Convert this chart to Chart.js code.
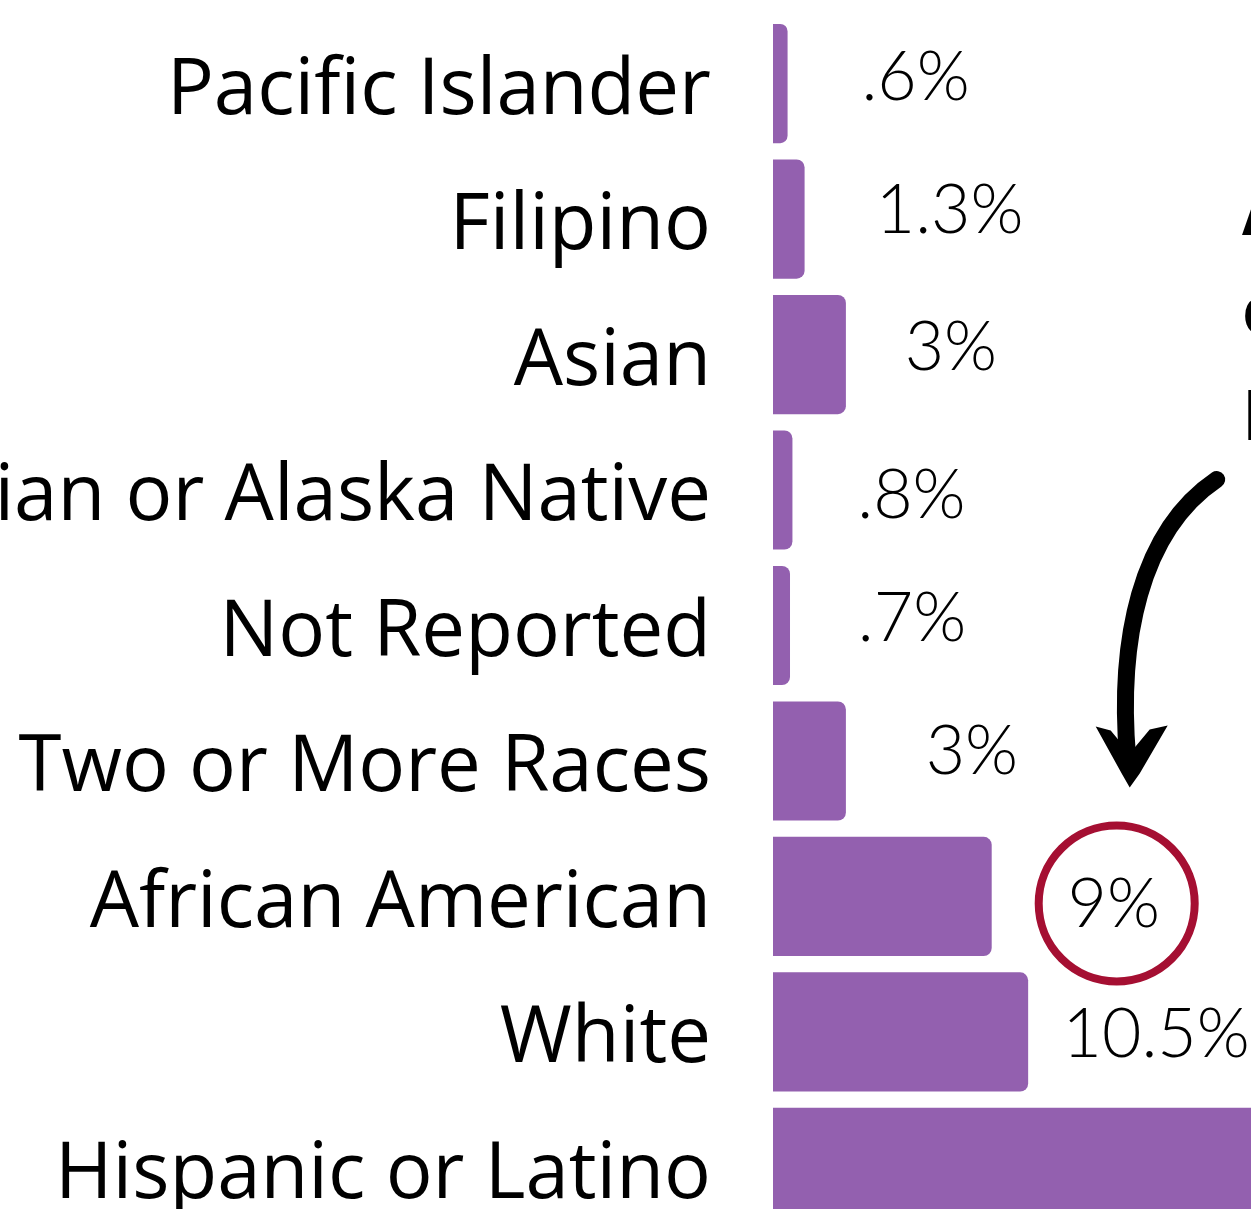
<!DOCTYPE html>
<html>
<head>
<meta charset="utf-8">
<script src="https://cdn.jsdelivr.net/npm/chart.js@4.4.1/dist/chart.umd.min.js"></script>
<style>
  html, body { margin: 0; padding: 0; background: #fff; overflow: hidden; }
  #wrap { position: relative; width: 1251px; height: 1209px; overflow: hidden; }
  #chart { position: absolute; left: -500px; top: -39px; }
</style>
</head>
<body>
<div id="wrap">
  <canvas id="chart" width="1759" height="1329"></canvas>
</div>
<script>
// categories + values (percent of students)
const groups = [
    "Pacific Islander",
    "Filipino",
    "Asian",
    "American Indian or Alaska Native",
    "Not Reported",
    "Two or More Races",
    "African American",
    "White",
    "Hispanic or Latino"
];
const pct = [0.6, 1.3, 3, 0.8, 0.7, 3, 9, 10.5, 71.1];
const highlightIdx = 6; // circled one
const sideNote = ["Almost", "one in ten", "Black"];

const barColor = '#9360AF';
const ringColor = '#A50F32';

// hand placed label nudges (center x from bar end, baseline from bar middle)
const nudgeX = [128, 145, 105, 119, 122, 126, 122, 128, 125];
const nudgeY = [16, 14, 15, 28, 15, 13, 31, 25, 20];

function fmt(v) {
    let s = String(v);
    if (v < 1) s = s.replace(/^0/, '');
    return s + '%';
}

const valueLabels = {
    id: 'valueLabels',
    afterDatasetsDraw(chart) {
        const ctx = chart.ctx;
        const meta = chart.getDatasetMeta(0);
        ctx.save();
        ctx.fillStyle = '#000';
        ctx.font = '300 68px Lato';
        ctx.textAlign = 'center';
        ctx.textBaseline = 'alphabetic';
        meta.data.forEach((bar, i) => {
            ctx.fillText(fmt(pct[i]), bar.x + nudgeX[i], bar.y + nudgeY[i]);
        });

        // red ring round the highlighted value
        const hb = meta.data[highlightIdx];
        const cx = hb.x + 125, cy = hb.y + 7;
        ctx.beginPath();
        ctx.arc(cx, cy, 78, 0, Math.PI * 2);
        ctx.lineWidth = 8;
        ctx.strokeStyle = ringColor;
        ctx.stroke();

        // curved arrow pointing down at the ring
        ctx.strokeStyle = '#000';
        ctx.fillStyle = '#000';
        ctx.lineWidth = 17;
        ctx.lineCap = 'round';
        ctx.beginPath();
        ctx.moveTo(cx + 100, cy - 424);
        ctx.bezierCurveTo(cx + 23, cy - 372, cx + 1, cy - 262, cx + 11, cy - 145);
        ctx.stroke();
        ctx.beginPath();
        ctx.moveTo(cx - 21, cy - 177);
        ctx.lineTo(cx - 6, cy - 173);
        ctx.lineTo(cx + 13, cy - 150);
        ctx.lineTo(cx + 33, cy - 174);
        ctx.lineTo(cx + 51, cy - 178);
        ctx.lineTo(cx + 23, cy - 130);
        ctx.lineTo(cx + 13, cy - 116);
        ctx.lineTo(cx + 5, cy - 130);
        ctx.closePath();
        ctx.fill();

        // side note, runs off the right edge (relative to first bar row)
        ctx.font = '700 70px "Open Sans"';
        ctx.textAlign = 'left';
        const nx = chart.chartArea.left + 469;
        const y0 = meta.data[0].y;
        [151, 251, 356].forEach((dy, i) => ctx.fillText(sideNote[i], nx, y0 + dy));
        ctx.restore();
    }
};

new Chart(document.getElementById('chart'), {
    type: 'bar',
    data: {
        labels: groups,
        datasets: [{
            data: pct,
            backgroundColor: barColor,
            borderRadius: 8,
            borderSkipped: 'start',
            barPercentage: 0.88,
            categoryPercentage: 1
        }]
    },
    options: {
        indexAxis: 'y',
        responsive: false,
        animation: false,
        layout: { padding: { top: 17, bottom: 17, left: 0, right: 0 } },
        scales: {
            x: { display: false, min: 0, max: 20 },
            y: {
                grid: { display: false },
                border: { display: false },
                ticks: {
                    color: '#000', padding: 54, labelOffset: 8,
                    font: { family: 'Open Sans', size: 78, lineHeight: 0.02 }
                },
                afterFit: s => { s.width = 1273; }
            }
        },
        plugins: { legend: { display: false }, tooltip: { enabled: false } }
    },
    plugins: [valueLabels]
});
</script>
</body>
</html>
